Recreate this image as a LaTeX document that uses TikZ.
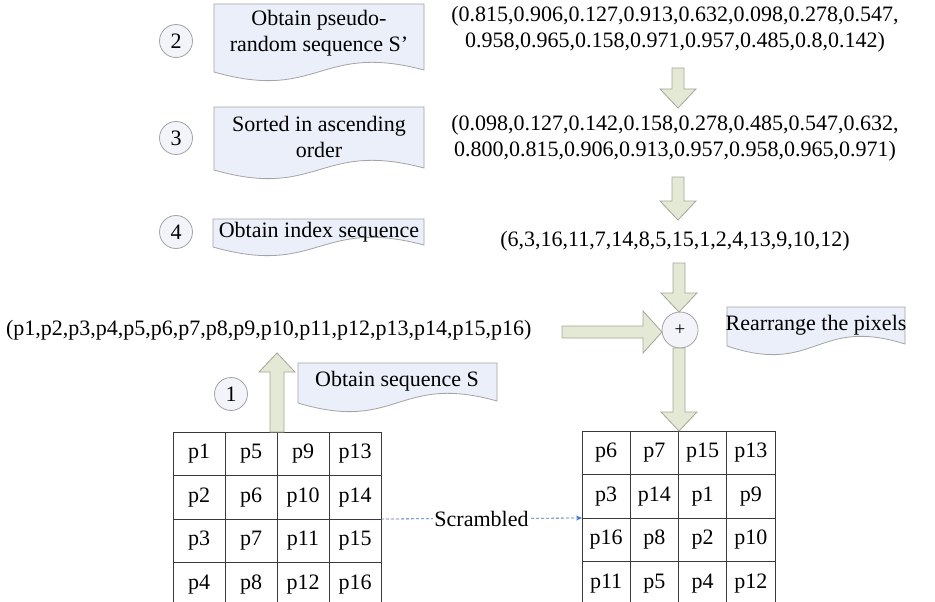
\documentclass[tikz,border=0pt]{standalone}
\usepackage{fontspec}
\setmainfont{Liberation Serif}
\usetikzlibrary{arrows.meta}
\definecolor{boxfill}{HTML}{EAEFF9}
\definecolor{boxgray}{HTML}{A4A4A8}
\definecolor{circfill}{HTML}{F2F4F9}
\definecolor{arrowfill}{HTML}{E4E9D5}
\definecolor{arrowdraw}{HTML}{A3A894}
\definecolor{gridline}{HTML}{3A3A3A}
\definecolor{scrblue}{HTML}{4472C4}
\newcommand\docshape[4]{%
  \path[docbox] (#1,#2) -- (#3,#2) -- (#3,#4-2)
    .. controls ({#1+0.5*(#3-#1)},#4-30) and ({#1+0.5*(#3-#1)},#4+30) .. (#1,#4) -- cycle;}
\newcommand\blkdown[3]{%
  \path[blkarrow] (#1-6,#2) -- (#1+6,#2) -- (#1+6,#3-19) -- (#1+18,#3-19) -- (#1,#3)
    -- (#1-18,#3-19) -- (#1-6,#3-19) -- cycle;}
\newcommand\blkup[3]{%
  \path[blkarrow] (#1-7,#2) -- (#1+7,#2) -- (#1+7,#3+19) -- (#1+18,#3+19) -- (#1,#3)
    -- (#1-18,#3+19) -- (#1-7,#3+19) -- cycle;}
\newcommand\blkright[3]{%
  \path[blkarrow] (#2,#1-6) -- (#3-19,#1-6) -- (#3-19,#1-21) -- (#3,#1)
    -- (#3-19,#1+21) -- (#3-19,#1+6) -- (#2,#1+6) -- cycle;}
\begin{document}
\begin{tikzpicture}[x=1pt,y=-1pt,
  every node/.style={font=\fontsize{22}{26}\selectfont, inner sep=0pt, outer sep=0pt},
  numcirc/.style={circle, draw=boxgray, fill=circfill, line width=0.8pt,
    minimum size=33pt, font=\fontsize{22}{26}\selectfont},
  docbox/.style={draw=boxgray, fill=boxfill, line width=0.8pt},
  blkarrow/.style={draw=arrowdraw, fill=arrowfill, line width=0.8pt, line join=miter},
  lcell/.style={draw=gridline, line width=1pt, minimum width=52pt, minimum height=43.5pt},
  rcell/.style={draw=gridline, line width=1pt, minimum width=48.25pt, minimum height=43.5pt},
  scr/.style={draw=scrblue, densely dashed, line width=0.8pt, -{Stealth[length=6pt,width=5pt]}}]
\clip (0,0) rectangle (935,602);
\fill[white] (0,0) rectangle (935,602);

% document boxes
\docshape{214}{4}{424}{72}
\docshape{214}{107}{424}{170}
\docshape{213}{219}{424}{247}
\docshape{298}{363}{497}{403}
\docshape{727}{307}{905}{346}

\node[align=center] (b2) at (319,33) {Obtain pseudo-\\random sequence S’};
\node[align=center] (b3) at (319,137) {Sorted in ascending\\order};
\node (b4) at (319,232) {Obtain index sequence};
\node (b1) at (397,381) {Obtain sequence S};
\node (bR) at (816,325) {Rearrange the pixels};

% number circles
\node[numcirc] (c2) at (176,41) {2};
\node[numcirc] (c3) at (176,138) {3};
\node[numcirc] (c4) at (176,232) {4};
\node[numcirc] (c1) at (231,394) {1};

% sequences
\node[align=center] (t1) at (675,29) {(0.815,0.906,0.127,0.913,0.632,0.098,0.278,0.547,\\0.958,0.965,0.158,0.971,0.957,0.485,0.8,0.142)};
\node[align=center] (t2) at (675,138) {(0.098,0.127,0.142,0.158,0.278,0.485,0.547,0.632,\\0.800,0.815,0.906,0.913,0.957,0.958,0.965,0.971)};
\node (t3) at (675,241) {(6,3,16,11,7,14,8,5,15,1,2,4,13,9,10,12)};
\node[anchor=west] (pseq) at (6,330) {(p1,p2,p3,p4,p5,p6,p7,p8,p9,p10,p11,p12,p13,p14,p15,p16)};

% plus
\node[circle, draw=boxgray, fill=circfill, line width=0.8pt, minimum size=36pt,
  font=\fontsize{19}{22}\selectfont] (plus) at (680,330) {+};

% grids
\foreach \c/\x in {1/199,2/251,3/303,4/355}{
  \foreach \r/\y in {1/453.75,2/497.25,3/540.75,4/584.25}{
    \pgfmathtruncatemacro{\n}{(\c-1)*4+\r}
    \node[lcell] (L\r\c) at (\x,\y) {p\n};
  }
}
\foreach \r/\y/\la/\lb/\lc/\ld in {1/452.75/6/7/15/13,2/496.25/3/14/1/9,3/539.75/16/8/2/10,4/583.25/11/5/4/12}{
  \node[rcell] (R\r1) at (606.125,\y) {p\la};
  \node[rcell] (R\r2) at (654.375,\y) {p\lb};
  \node[rcell] (R\r3) at (702.625,\y) {p\lc};
  \node[rcell] (R\r4) at (750.875,\y) {p\ld};
}

% block arrows
\blkdown{678}{68}{108}
\blkdown{678}{177}{220}
\blkdown{679}{263}{312}
\blkdown{679}{348}{431}
\blkright{332}{562}{662}
\blkup{277}{432}{353}

% scrambled
\draw[scr] (L24.south east) -- node[fill=white, inner xsep=1pt] (scrl) {Scrambled} (R21.south west);
\end{tikzpicture}
\end{document}
